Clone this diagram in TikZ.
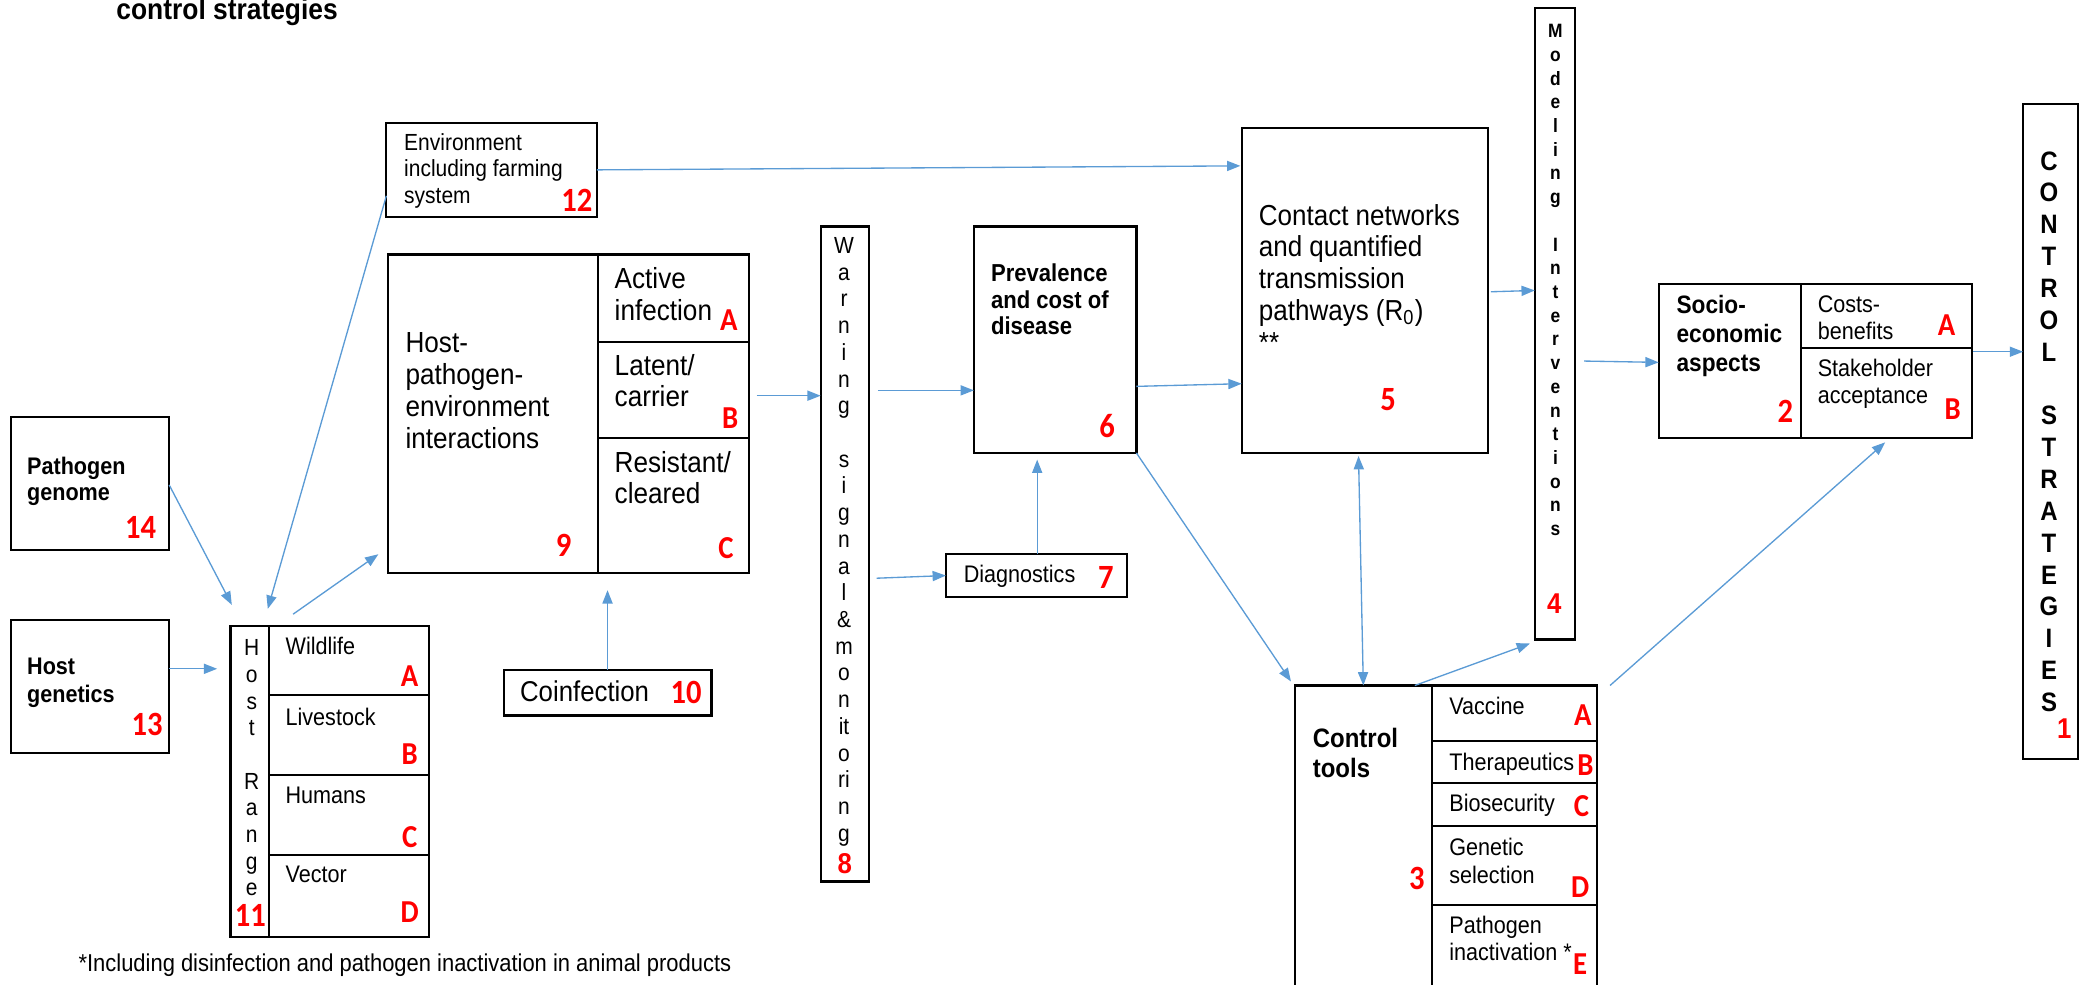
\documentclass[tikz,border=0pt]{standalone}
\usepackage{fontspec}
\setmainfont{Liberation Sans}[FakeStretch=0.9]
\newfontfamily\numfont{Carlito}[FakeStretch=0.9]
\usetikzlibrary{fit,calc,arrows.meta}
\definecolor{arrowblue}{RGB}{91,155,213}
\definecolor{numred}{RGB}{255,0,0}
\newcommand\mkbox[5]{\node[cellbox, fit={(#2,#3) (#4,#5)}] (#1) {};}
\tikzset{
  cellbox/.style={draw=black, line width=0.8pt, inner sep=0pt, outer sep=0pt},
  conn/.style={draw=arrowblue, line width=0.5pt, -{Triangle[length=5pt,width=3.8pt]}},
  conntwo/.style={draw=arrowblue, line width=0.5pt, {Triangle[length=5pt,width=3.8pt]}-{Triangle[length=5pt,width=3.8pt]}},
  txt/.style={inner sep=0pt, anchor=base west, align=left},
  num/.style={inner sep=0pt, text=numred, font=\numfont\bfseries\fontsize{12.75pt}{12.75pt}\selectfont},
  numa/.style={inner sep=0pt, text=numred, font=\bfseries\fontsize{10.75pt}{10.75pt}\selectfont},
  lett/.style={inner sep=0pt, text=numred, font=\numfont\bfseries\fontsize{12pt}{12pt}\selectfont},
  vch/.style={inner sep=0pt, anchor=base},
}
\begin{document}
\begin{tikzpicture}[x={(0.5pt,0)}, y={(0,-0.5pt)}]
\useasboundingbox (0,0) rectangle (1568,739.3);
\clip (0,0) rectangle (1568,739.3);

% title and footnote
\node[inner sep=0pt, anchor=base west, font=\bfseries\fontsize{11pt}{11pt}\selectfont] (title) at (87,15) {control strategies};
\node[txt, font=\fontsize{9.15pt}{10pt}\selectfont] (fn) at (58.6,729.5) {*Including disinfection and pathogen inactivation in animal products};

% boxes
\mkbox{env}{290}{92}{448}{163}
\mkbox{hpe}{291}{191}{562}{430}
\mkbox{hpeA}{449}{191}{562}{257}
\mkbox{hpeB}{449}{257}{562}{329}
\mkbox{hpeC}{449}{329}{562}{430}
\mkbox{pg}{8}{313}{127}{413}
\mkbox{hg}{8}{465.5}{127}{565}
\mkbox{hr}{173}{470}{322}{703}
\mkbox{hrA}{202}{470}{322}{521.8}
\mkbox{hrB}{202}{521.8}{322}{581.5}
\mkbox{hrC}{202}{581.5}{322}{641.5}
\mkbox{hrD}{202}{641.5}{322}{703}
\mkbox{coinf}{378}{503}{534}{537}
\mkbox{warn}{616}{170}{652}{661.6}
\mkbox{prev}{731}{170}{853}{340}
\mkbox{diag}{710}{416}{846}{448}
\mkbox{contact}{932}{96}{1117}{340}
\mkbox{model}{1152}{6}{1182}{480}
\mkbox{socio}{1245}{213}{1480}{329}
\mkbox{socA}{1352}{213}{1480}{261}
\mkbox{socB}{1352}{261}{1480}{329}
\mkbox{cs}{1518.5}{78}{1559.5}{570}
\mkbox{ct}{972}{514.5}{1198.5}{770}
\mkbox{ctA}{1075}{514.5}{1198.5}{556.5}
\mkbox{ctB}{1075}{556.5}{1198.5}{588}
\mkbox{ctC}{1075}{588}{1198.5}{620}
\mkbox{ctD}{1075}{620}{1198.5}{679}
\mkbox{ctE}{1075}{679}{1198.5}{770}

% texts (multi-line nodes: base = baseline of the last line)
\node[txt, font=\fontsize{8.75pt}{9.8pt}\selectfont] (envt) at (303,152.4) {Environment\\including farming\\system};
\node[txt, font=\fontsize{10.9pt}{12pt}\selectfont] (hpet) at (304,336.9) {Host-\\pathogen-\\environment\\interactions};
\node[txt, font=\fontsize{10.9pt}{11.85pt}\selectfont] (hpeAt) at (461,240.4) {Active\\infection};
\node[txt, font=\fontsize{10.9pt}{11.85pt}\selectfont] (hpeBt) at (461,305.4) {Latent/\\carrier};
\node[txt, font=\fontsize{10.9pt}{11.85pt}\selectfont] (hpeCt) at (461,378) {Resistant/\\cleared};
\node[txt, font=\bfseries\fontsize{9pt}{9.8pt}\selectfont] (pgt) at (20,375.4) {Pathogen\\genome};
\node[txt, font=\bfseries\fontsize{9pt}{10.5pt}\selectfont] (hgt) at (20,527.2) {Host\\genetics};
\node[txt, font=\fontsize{9pt}{10pt}\selectfont] (hrAt) at (214,491.4) {Wildlife};
\node[txt, font=\fontsize{9pt}{10pt}\selectfont] (hrBt) at (214,544.4) {Livestock};
\node[txt, font=\fontsize{9pt}{10pt}\selectfont] (hrCt) at (214,603.2) {Humans};
\node[txt, font=\fontsize{9pt}{10pt}\selectfont] (hrDt) at (214,662.4) {Vector};
\node[txt, font=\fontsize{10.75pt}{12pt}\selectfont] (coinft) at (390,526.8) {Coinfection};
\node[txt, font=\fontsize{9pt}{10pt}\selectfont] (diagt) at (723,437.2) {Diagnostics};
\node[txt, font=\bfseries\fontsize{9.2pt}{10pt}\selectfont] (prevt) at (743.5,251.2) {Prevalence\\and cost of\\disease};
\node[txt, font=\fontsize{10.85pt}{11.95pt}\selectfont] (contactt) at (944.5,264.5) {Contact networks\\and quantified\\transmission\\pathways (R\textsubscript{0})\\**};
\node[txt, font=\bfseries\fontsize{9.45pt}{10.75pt}\selectfont] (sociot) at (1258,278.5) {Socio-\\economic\\aspects};
\node[txt, font=\fontsize{9pt}{10.3pt}\selectfont] (socAt) at (1364,254.8) {Costs-\\benefits};
\node[txt, font=\fontsize{9pt}{10.3pt}\selectfont] (socBt) at (1364,303) {Stakeholder\\acceptance};
\node[txt, font=\bfseries\fontsize{10pt}{11.25pt}\selectfont] (ctt) at (985,583.5) {Control\\tools};
\node[txt, font=\fontsize{9pt}{10.25pt}\selectfont] (ctAt) at (1087.5,536.4) {Vaccine};
\node[txt, font=\fontsize{9pt}{10.25pt}\selectfont] (ctBt) at (1087.5,578.4) {Therapeutics};
\node[txt, font=\fontsize{9pt}{10.25pt}\selectfont] (ctCt) at (1087.5,609.4) {Biosecurity};
\node[txt, font=\fontsize{9pt}{10.25pt}\selectfont] (ctDt) at (1087.5,662.9) {Genetic\\selection};
\node[txt, font=\fontsize{9pt}{10pt}\selectfont] (ctEt) at (1087.5,720.9) {Pathogen\\inactivation *};

% vertical letter stacks
\foreach \c [count=\i from 0] in {W,a,r,n,i,n,g,{},s,i,g,n,a,l,\&,m,o,n,it,o,ri,n,g}
  \node[vch, font=\fontsize{8.75pt}{8.75pt}\selectfont] (warnl\i) at (633.5,190.3+\i*20.05) {\c};
\foreach \c [count=\i from 0] in {H,o,s,t,{},R,a,n,g,e}
  \node[vch, font=\fontsize{8.75pt}{8.75pt}\selectfont] (hrl\i) at (189,492.3+\i*20) {\c};
\foreach \c [count=\i from 0] in {M,o,d,e,l,i,n,g,{},I,n,t,e,r,v,e,n,t,i,o,n,s}
  \node[vch, font=\bfseries\fontsize{7.25pt}{7.25pt}\selectfont] (modl\i) at (1167.5,28.2+\i*17.8) {\c};
\foreach \c [count=\i from 0] in {C,O,N,T,R,O,L,{},S,T,R,A,T,E,G,I,E,S}
  \node[vch, font=\bfseries\fontsize{10pt}{10pt}\selectfont] (csl\i) at (1538,127.7+\i*23.9) {\c};

% red numbers and letters
\node[num] (n12) at (433,150.3) {12};
\node[num] (n9) at (423,409.5) {9};
\node[lett] (hpeAl) at (547,240.5) {A};
\node[lett] (hpeBl) at (548,313.5) {B};
\node[lett] (hpeCl) at (545,411.5) {C};
\node[num] (n14) at (105.6,396) {14};
\node[num] (n13) at (110.4,544) {13};
\node[num] (n11) at (188,687.5) {11};
\node[lett] (hrAl) at (307.5,507.4) {A};
\node[lett] (hrBl) at (307.5,566) {B};
\node[lett] (hrCl) at (307.5,628) {C};
\node[lett] (hrDl) at (307.5,685) {D};
\node[num] (n10) at (515,520) {10};
\node[numa] (n8) at (634,648) {8};
\node[num] (n6) at (831,320) {6};
\node[num] (n7) at (830,433.6) {7};
\node[num] (n5) at (1042,300) {5};
\node[numa] (n4) at (1166.7,452.8) {4};
\node[num] (n2) at (1340,308.4) {2};
\node[lett] (socAl) at (1461,244.3) {A};
\node[lett] (socBl) at (1465.6,307) {B};
\node[numa] (n1) at (1549.5,547) {1};
\node[num] (n3) at (1063.5,659) {3};
\node[lett] (ctAl) at (1188,537) {A};
\node[lett] (ctBl) at (1190,574) {B};
\node[lett] (ctCl) at (1187,605) {C};
\node[lett] (ctDl) at (1186,666) {D};
\node[lett] (ctEl) at (1186,724) {E};

% connectors
\draw[conn] (env.east) -- ($(contact.north west)+(-1,28.5)$);
\draw[conn] ($(env.south west)+(0,-16)$) -- ($(hr.north west)+(28,-13)$);
\draw[conn] ($(pg.north east)+(0,51)$) -- ($(hr.north west)+(1,-16)$);
\draw[conn] ($(hg.north east)+(0,36.5)$) -- ($(hr.north west)+(-10,32)$);
\draw[conn] ($(hr.north west)+(47,-9)$) -- ($(hpe.south west)+(-7,-14)$);
\draw[conn] (coinf.north) -- ($(coinf.north |- hpe.south)+(0,13)$);
\draw[conn] ($(hpe.east)+(6,-13.5)$) -- ($(warn.north west)+(0,127)$);
\draw[conn] ($(warn.north east)+(7,123)$) -- ($(prev.north west)+(0,123)$);
\draw[conn] ($(warn.north east)+(6,264)$) -- (diag.west);
\draw[conn] ($(diag.north west)+(68.5,0)$) -- ($(prev.south west)+(47.5,5)$);
\draw[conn] ($(prev.north east)+(0,120)$) -- ($(contact.north west)+(0,192)$);
\draw[conn] (prev.south east) -- ($(ct.north west)+(-3,-3)$);
\draw[conntwo] ($(contact.south west)+(87.7,2.3)$) -- ($(ct.north west)+(51.3,0)$);
\draw[conn] ($(ct.north west)+(90,0)$) -- ($(model.south west)+(-3.6,3)$);
\draw[conn] ($(ct.north east)+(10,0)$) -- ($(socio.south west)+(170,3)$);
\draw[conn] ($(contact.north east)+(2,123)$) -- ($(model.north west)+(0,212)$);
\draw[conn] ($(model.north east)+(7,265)$) -- ($(socio.north west)+(0,59)$);
\draw[conn] ($(socio.north east)+(1,51)$) -- ($(cs.north west)+(0,186)$);
\end{tikzpicture}
\end{document}
